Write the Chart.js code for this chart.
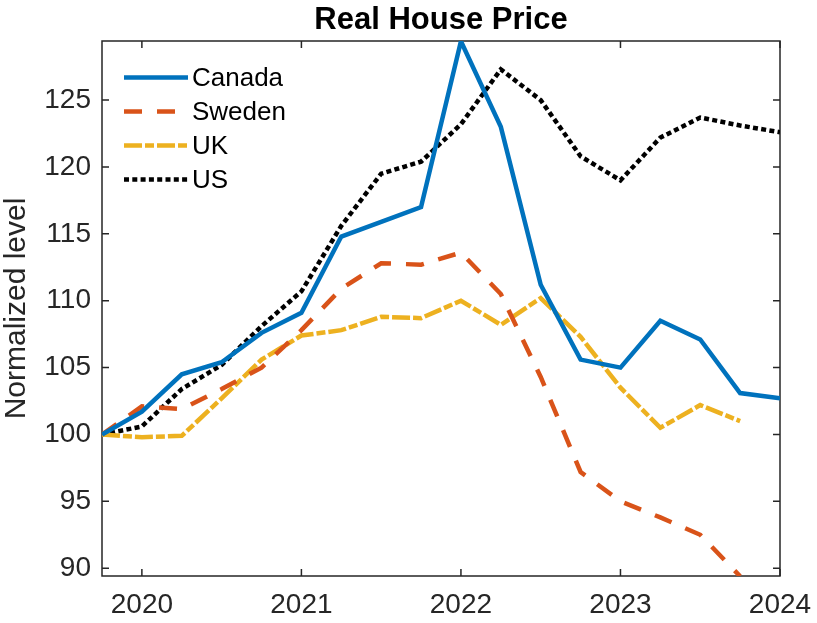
<!DOCTYPE html>
<html>
<head>
<meta charset="utf-8">
<title>Real House Price</title>
<script src="https://cdn.jsdelivr.net/npm/chart.js@4.4.1/dist/chart.umd.min.js"></script>
<style>
  html, body { margin: 0; padding: 0; background: #fff; }
  #wrap { width: 817px; height: 623px; }
</style>
</head>
<body>
<div id="wrap"><canvas id="houseChart"></canvas></div>
<script>
// quarterly observations 2019Q4 .. 2024Q1, as decimal years
const quarters = [2019.75, 2020, 2020.25, 2020.5, 2020.75, 2021, 2021.25, 2021.5, 2021.75,
                  2022, 2022.25, 2022.5, 2022.75, 2023, 2023.25, 2023.5, 2023.75, 2024];

const canada = [100, 101.7, 104.5, 105.4, 107.6, 109.1, 114.8, 115.9, 117.0,
                129.4, 123.0, 111.2, 105.6, 105.0, 108.5, 107.1, 103.1, 102.7];
const sweden = [100, 102.1, 101.9, 103.4, 105.0, 107.8, 110.9, 112.8, 112.7,
                113.6, 110.5, 104.3, 97.2, 95.0, 93.8, 92.5, 89.4, null];
const uk     = [100, 99.8, 99.9, 102.7, 105.6, 107.4, 107.8, 108.8, 108.7,
                110.0, 108.2, 110.2, 107.3, 103.5, 100.5, 102.2, 101.0, null];
const us     = [100, 100.6, 103.4, 105.2, 108.1, 110.7, 115.6, 119.5, 120.4,
                123.2, 127.3, 125.0, 120.8, 119.0, 122.2, 123.7, 123.1, 122.6];

const yearTicks = [2020, 2021, 2022, 2023, 2024];
const levelTicks = [90, 95, 100, 105, 110, 115, 120, 125];

const FONT = '"Liberation Sans", Arial, Helvetica, sans-serif';
const AXIS_COLOR = '#262626';

const toPoints = vals => vals.map((v, i) => ({ x: quarters[i], y: v }));

// box around the plot with inward ticks on all four sides (matlab look)
const axesBox = {
    id: 'axesBox',
    beforeDatasetsDraw(chart) {
        const { ctx, chartArea: a, scales: { x, y } } = chart;
        const tl = 7;
        ctx.save();
        ctx.strokeStyle = AXIS_COLOR;
        ctx.lineWidth = 1.5;
        ctx.strokeRect(a.left, a.top, a.right - a.left, a.bottom - a.top);
        ctx.beginPath();
        yearTicks.forEach(v => {
            const px = x.getPixelForValue(v);
            ctx.moveTo(px, a.bottom); ctx.lineTo(px, a.bottom - tl);
            ctx.moveTo(px, a.top); ctx.lineTo(px, a.top + tl);
        });
        levelTicks.forEach(v => {
            const py = y.getPixelForValue(v);
            ctx.moveTo(a.left, py); ctx.lineTo(a.left + tl, py);
            ctx.moveTo(a.right, py); ctx.lineTo(a.right - tl, py);
        });
        ctx.stroke();
        ctx.restore();
    }
};

// legend inside the axes, top-left, no frame
const insideLegend = {
    id: 'insideLegend',
    afterDatasetsDraw(chart) {
        const { ctx, chartArea: a } = chart;
        const x0 = a.left + 22, lineLen = 64, y0 = a.top + 36.5, step = 34;
        ctx.save();
        chart.data.datasets.forEach((ds, i) => {
            const yy = y0 + i * step;
            ctx.strokeStyle = ds.borderColor;
            ctx.lineWidth = ds.borderWidth;
            ctx.lineCap = 'butt';
            ctx.setLineDash(ds.borderDash || []);
            ctx.beginPath();
            ctx.moveTo(x0, yy);
            ctx.lineTo(x0 + lineLen, yy);
            ctx.stroke();
            ctx.setLineDash([]);
            ctx.fillStyle = '#000';
            ctx.font = '26px ' + FONT;
            ctx.textBaseline = 'middle';
            ctx.textAlign = 'left';
            ctx.fillText(ds.label, x0 + lineLen + 4, yy + 1);
        });
        ctx.restore();
    }
};

const ctx = document.getElementById('houseChart').getContext('2d');

new Chart(ctx, {
    type: 'line',
    data: {
        datasets: [
            { label: 'Canada', data: toPoints(canada), borderColor: '#0072BD', borderWidth: 4.5, borderDash: [] },
            { label: 'Sweden', data: toPoints(sweden), borderColor: '#D95319', borderWidth: 4.5, borderDash: [18, 15] },
            { label: 'UK', data: toPoints(uk), borderColor: '#EDB120', borderWidth: 4.5, borderDash: [18, 3, 9, 3] },
            { label: 'US', data: toPoints(us), borderColor: '#000000', borderWidth: 4.5, borderDash: [5, 3.3] }
        ]
    },
    options: {
        responsive: true,
        maintainAspectRatio: false,
        animation: false,
        clip: 0,
        elements: {
            point: { radius: 0 },
            line: { tension: 0, fill: false, borderCapStyle: 'butt', borderJoinStyle: 'miter' }
        },
        layout: { padding: { left: 0, right: 37, top: 0, bottom: 0 } },
        plugins: {
            legend: { display: false },
            tooltip: { enabled: false },
            title: {
                display: true,
                text: 'Real House Price',
                fullSize: false,
                color: '#000',
                font: { family: FONT, size: 31, weight: 'bold', lineHeight: 1.2 },
                padding: { top: 2, bottom: 1.8 }
            }
        },
        scales: {
            x: {
                type: 'linear',
                min: 2019.75,
                max: 2024,
                afterBuildTicks: s => { s.ticks = yearTicks.map(v => ({ value: v })); },
                afterFit: s => { s.height = 47; s.paddingLeft = 0; s.paddingRight = 0; },
                grid: { display: false, drawTicks: false },
                border: { display: false },
                ticks: {
                    color: AXIS_COLOR,
                    padding: 12,
                    maxRotation: 0,
                    font: { family: FONT, size: 28 },
                    callback: v => String(v)
                }
            },
            y: {
                min: 89.42,
                max: 129.42,
                afterBuildTicks: s => { s.ticks = levelTicks.map(v => ({ value: v })); },
                afterFit: s => { s.width = 102; s.paddingTop = 0; s.paddingBottom = 0; },
                grid: { display: false, drawTicks: false },
                border: { display: false },
                ticks: {
                    color: AXIS_COLOR,
                    padding: 11,
                    font: { family: FONT, size: 28 },
                    callback: v => String(v)
                },
                title: {
                    display: true,
                    text: 'Normalized level',
                    color: AXIS_COLOR,
                    font: { family: FONT, size: 30, lineHeight: 1.13 },
                    padding: { top: 0, bottom: 0 }
                }
            }
        }
    },
    plugins: [axesBox, insideLegend]
});
</script>
</body>
</html>
